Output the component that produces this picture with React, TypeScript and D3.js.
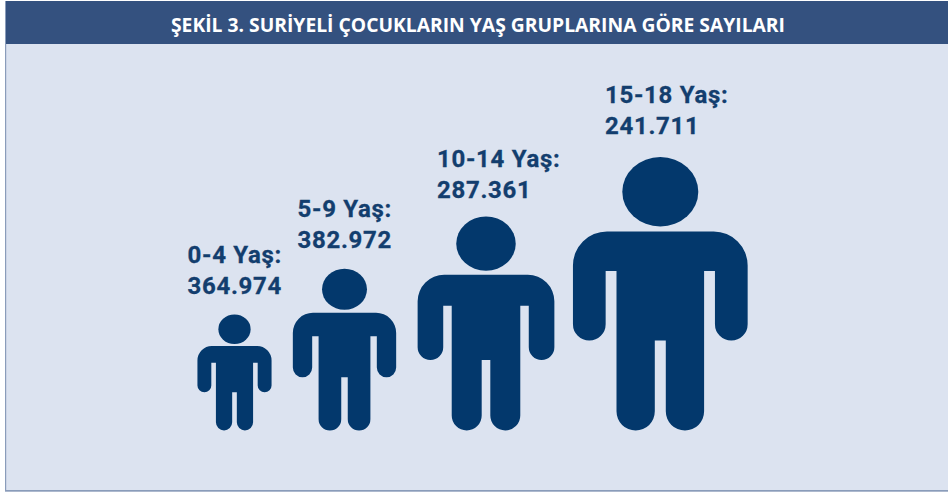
import React from "react";
import * as d3 from "d3";

const title = "ŞEKİL 3. SURİYELİ ÇOCUKLARIN YAŞ GRUPLARINA GÖRE SAYILARI";
const ageGroups = ["0-4 Yaş:", "5-9 Yaş:", "10-14 Yaş:", "15-18 Yaş:"];
const valueLabels = ["364.974", "382.972", "287.361", "241.711"];

// Layout of the pictogram (figure heights are illustrative, not proportional to the counts)
const figureCenters = [234.5, 344.5, 486, 660.3];
const figureHeights = [116, 161.7, 214, 273.4];
const labelX = [187.5, 297.5, 437, 605];
const labelBaseline = [263, 216.7, 166.7, 103];
const FIGURE_BOTTOM = 430.5;

// unit shape proportions, measured on the largest figure, height = 1
const U = {
  headRx: 38 / 273.4, headRy: 34.7 / 273.4,
  halfW: 87.35 / 273.4, bodyTop: 74.4 / 273.4, armpit: 114 / 273.4, armEnd: 183.4 / 273.4,
  armW: 32.7 / 273.4, torsoHalf: 43.8 / 273.4, gapHalf: 5.5 / 273.4, shoulder: 34 / 273.4,
};

function figurePath(cx: number, h: number) {
  const top = FIGURE_BOTTOM - h;
  const sx = d3.scaleLinear().domain([-1, 1]).range([cx - h, cx + h]);
  const sy = d3.scaleLinear().domain([0, 1]).range([top, FIGURE_BOTTOM]);
  const p = d3.path();
  const hw = U.halfW, r = U.shoulder, a = U.armW, t = U.torsoHalf, g = U.gapHalf;
  const armR = (a / 2) * h;
  const legW = t - g;
  const legR = (legW / 2) * h;
  p.moveTo(sx(0), sy(U.bodyTop));
  p.lineTo(sx(hw - r), sy(U.bodyTop));
  p.arcTo(sx(hw), sy(U.bodyTop), sx(hw), sy(U.bodyTop + r), r * h);
  p.lineTo(sx(hw), sy(U.armEnd) - armR);
  p.arc(sx(hw - a / 2), sy(U.armEnd) - armR, armR, 0, Math.PI);
  p.lineTo(sx(hw - a), sy(U.armpit));
  p.lineTo(sx(t), sy(U.armpit));
  p.lineTo(sx(t), sy(1) - legR);
  p.arc(sx(t - legW / 2), sy(1) - legR, legR, 0, Math.PI);
  p.lineTo(sx(g), sy(U.armEnd));
  p.lineTo(sx(-g), sy(U.armEnd));
  p.lineTo(sx(-g), sy(1) - legR);
  p.arc(sx(-t + legW / 2), sy(1) - legR, legR, 0, Math.PI);
  p.lineTo(sx(-t), sy(U.armpit));
  p.lineTo(sx(-hw + a), sy(U.armpit));
  p.lineTo(sx(-hw + a), sy(U.armEnd) - armR);
  p.arc(sx(-hw + a / 2), sy(U.armEnd) - armR, armR, 0, Math.PI);
  p.lineTo(sx(-hw), sy(U.bodyTop + r));
  p.arcTo(sx(-hw), sy(U.bodyTop), sx(-hw + r), sy(U.bodyTop), r * h);
  p.closePath();
  return { d: p.toString(), headY: sy(U.headRy), rx: U.headRx * h, ry: U.headRy * h };
}

const NAVY = "#03386c";

export default function App() {
  return (
    <svg width={948} height={492} style={{ position: "fixed", left: 0, top: 0, display: "block" }}>
      <rect width={948} height={492} fill="#ffffff" />
      <rect x={5.5} y={1} width={943} height={490} fill="#dce3f0" />
      <rect x={5} y={1} width={1.2} height={490} fill="#8a9cba" />
      <rect x={5} y={490} width={943} height={1.7} fill="#8a9cba" />
      <rect x={6} y={1} width={942} height={43} fill="#34517f" />
      <text x={478} y={32} textAnchor="middle" fill="#ffffff" fontFamily="'Open Sans'" fontWeight={700} fontSize={19.5} textLength={614} lengthAdjust="spacingAndGlyphs">
        {title}
      </text>
      {ageGroups.map((g, i) => {
        const f = figurePath(figureCenters[i], figureHeights[i]);
        return (
          <g key={g}>
            <ellipse cx={figureCenters[i]} cy={f.headY} rx={f.rx} ry={f.ry} fill={NAVY} />
            <path d={f.d} fill={NAVY} />
            <g fill="#133e6e" stroke="#133e6e" strokeWidth={0.3} fontFamily="Roboto" fontWeight={700} fontSize={24} letterSpacing={0.7}>
              <text x={labelX[i]} y={labelBaseline[i]}>{g}</text>
              <text x={labelX[i]} y={labelBaseline[i] + 31}>{valueLabels[i]}</text>
            </g>
          </g>
        );
      })}
    </svg>
  );
}
